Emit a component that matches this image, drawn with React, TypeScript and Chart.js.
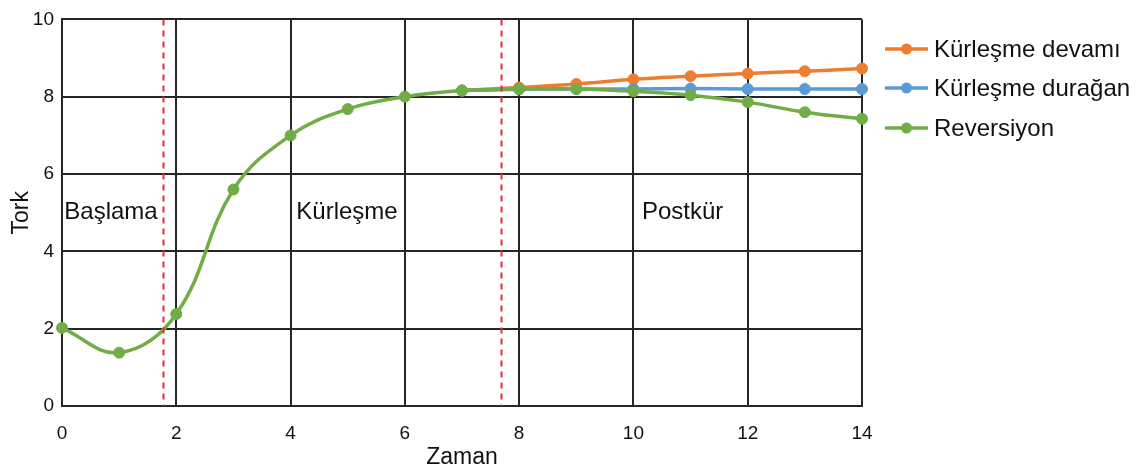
import React, { useEffect, useRef } from "react";
import { Chart, registerables } from "chart.js";

Chart.register(...registerables);

// ---- data ----
const zaman = [0, 1, 2, 3, 4, 5, 6, 7, 8, 9, 10, 11, 12, 13, 14];
const reversiyon = [2.02, 1.38, 2.38, 5.6, 7.0, 7.68, 8.0, 8.16, 8.2, 8.2, 8.14, 8.04, 7.86, 7.6, 7.43];
const postZaman = [7, 8, 9, 10, 11, 12, 13, 14];
const kurlesmeDevami = [8.16, 8.24, 8.33, 8.45, 8.53, 8.6, 8.66, 8.73];
const kurlesmeDuragan = [8.16, 8.19, 8.2, 8.2, 8.21, 8.2, 8.2, 8.2];
const seriesNames = ["Kürleşme devamı", "Kürleşme durağan", "Reversiyon"];
const seriesColors = ["#ED7D31", "#5B9BD5", "#70AD47"];
const phaseLabels = ["Başlama", "Kürleşme", "Postkür"];
const phaseLabelX = [0.04, 4.1, 10.15];
const phaseLabelY = [5, 5, 5];
const phaseBoundaries = [1.77, 7.68];
const xTitle = "Zaman";
const yTitle = "Tork";

const FONT = "'Liberation Sans', Arial, sans-serif";

const pts = (xs: number[], ys: number[]) => xs.map((x, i) => ({ x, y: ys[i] }));

const overlayPlugin = {
  id: "overlay",
  afterDatasetsDraw(chart: any) {
    const { ctx, chartArea, scales } = chart;
    const xs = scales.x;
    const ys = scales.y;
    ctx.save();
    // phase boundaries
    ctx.strokeStyle = "#ee2a3a";
    ctx.lineWidth = 2;
    ctx.setLineDash([6, 5]);
    phaseBoundaries.forEach((b) => {
      const px = Math.round(xs.getPixelForValue(b)) + 0.5;
      ctx.beginPath();
      ctx.moveTo(px, chartArea.top);
      ctx.lineTo(px, chartArea.bottom);
      ctx.stroke();
    });
    ctx.setLineDash([]);
    // phase labels
    ctx.fillStyle = "#111";
    ctx.font = `24px ${FONT}`;
    ctx.textAlign = "left";
    ctx.textBaseline = "middle";
    phaseLabels.forEach((t, i) => {
      ctx.fillText(t, xs.getPixelForValue(phaseLabelX[i]), ys.getPixelForValue(phaseLabelY[i]));
    });
    ctx.restore();
  },
  afterDraw(chart: any) {
    const { ctx } = chart;
    ctx.save();
    const lx0 = 885;
    const lx1 = 928;
    const rowY = [49, 88, 128];
    ctx.font = `24px ${FONT}`;
    ctx.textBaseline = "middle";
    ctx.textAlign = "left";
    seriesNames.forEach((name, i) => {
      const y = rowY[i];
      ctx.strokeStyle = seriesColors[i];
      ctx.lineWidth = 3.5;
      ctx.beginPath();
      ctx.moveTo(lx0, y);
      ctx.lineTo(lx1, y);
      ctx.stroke();
      ctx.fillStyle = seriesColors[i];
      ctx.beginPath();
      ctx.arc((lx0 + lx1) / 2, y, 5.5, 0, Math.PI * 2);
      ctx.fill();
      ctx.fillStyle = "#111";
      ctx.fillText(name, 934, y + 1);
    });
    ctx.restore();
  },
};

export default function App() {
  const ref = useRef<HTMLCanvasElement | null>(null);
  useEffect(() => {
    if (!ref.current) return;
    const mk = (label: string, data: any[], color: string, order: number) => ({
      label,
      data,
      borderColor: color,
      backgroundColor: color,
      borderWidth: 3.5,
      pointRadius: 5.5,
      pointBorderWidth: 1,
      pointHoverRadius: 5.5,
      tension: 0.4,
      clip: false as any,
      order,
    });
    const chart = new Chart(ref.current, {
      type: "line",
      data: {
        datasets: [
          mk(seriesNames[0], pts(postZaman, kurlesmeDevami), seriesColors[0], 3),
          mk(seriesNames[1], pts(postZaman, kurlesmeDuragan), seriesColors[1], 2),
          mk(seriesNames[2], pts(zaman, reversiyon), seriesColors[2], 1),
        ],
      },
      options: {
        animation: false,
        responsive: true,
        maintainAspectRatio: false,
        layout: { padding: { left: 0, top: 16, right: 279, bottom: 0 } },
        plugins: { legend: { display: false }, tooltip: { enabled: false } },
        scales: {
          x: {
            type: "linear",
            min: 0,
            max: 14,
            afterFit: (s: any) => {
              s.height = 68;
            },
            ticks: { stepSize: 2, padding: 16, color: "#111", font: { family: FONT, size: 19 } },
            grid: { color: "#262626", lineWidth: 2, drawTicks: false },
            border: { color: "#262626", width: 2 },
            title: {
              display: true,
              text: xTitle,
              color: "#111",
              font: { family: FONT, size: 23 },
              padding: { top: 0, bottom: 3 },
            },
          },
          y: {
            min: 0,
            max: 10,
            afterFit: (s: any) => {
              s.width = 62;
            },
            ticks: { stepSize: 2, padding: 8, color: "#111", font: { family: FONT, size: 19 } },
            grid: { color: "#262626", lineWidth: 2, drawTicks: false },
            border: { color: "#262626", width: 2 },
            title: {
              display: true,
              text: yTitle,
              color: "#111",
              font: { family: FONT, size: 23 },
              padding: { top: 8, bottom: 0 },
            },
          },
        },
      },
      plugins: [overlayPlugin],
    });
    return () => chart.destroy();
  }, []);
  return (
    <div style={{ position: "fixed", left: 0, top: 0, width: 1141, height: 474, background: "#fff" }}>
      <canvas ref={ref} />
    </div>
  );
}
